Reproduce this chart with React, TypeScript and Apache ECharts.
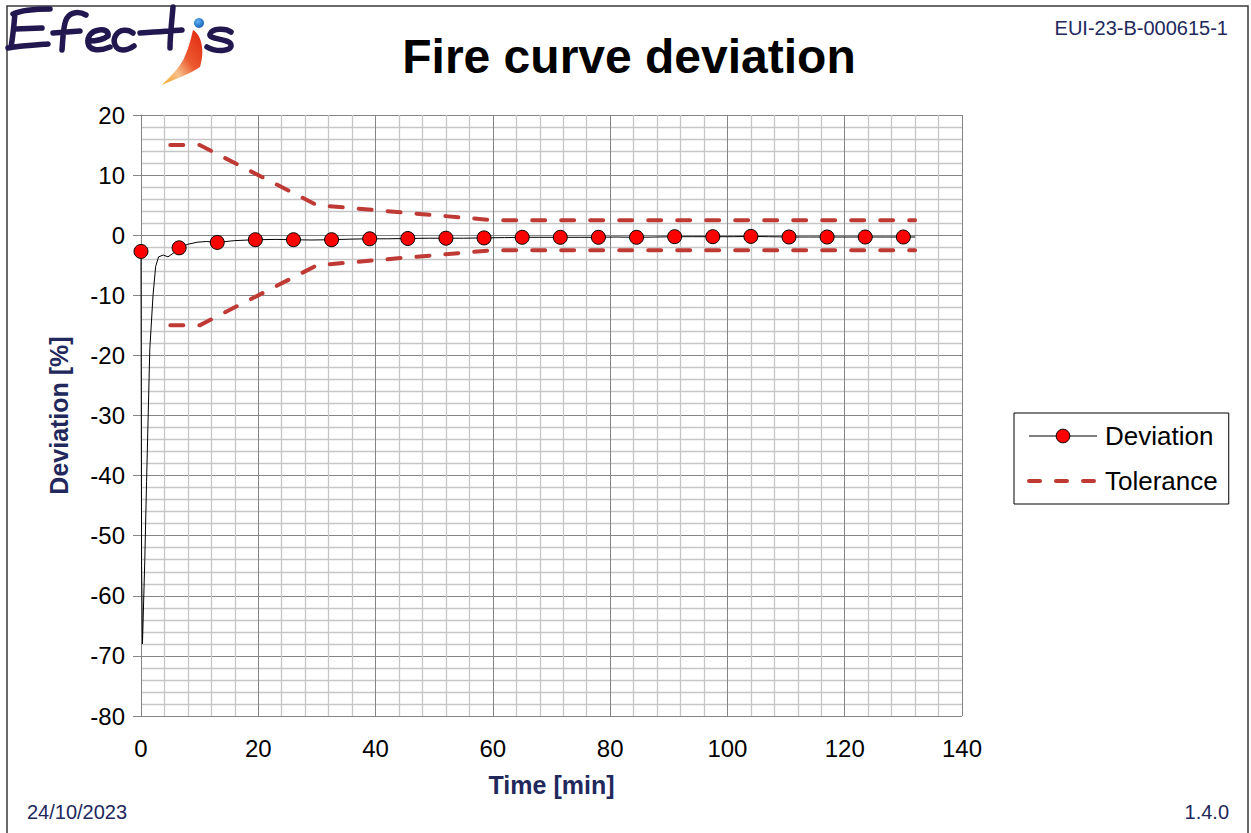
import React, { useEffect, useRef } from 'react';
import * as echarts from 'echarts';

// ---- Data ----
const devTime = [0, 0.1, 0.25, 0.65, 0.95, 1.5, 2.05, 2.5, 3.0, 3.8, 4.6, 5.5, 6.5, 8.0, 9.7, 11.2, 13.0, 16.0, 19.5, 23.0, 26.0, 29.0, 32.5, 36.0, 39.0, 42.0, 45.5, 49.0, 52.0, 55.0, 58.5, 62.0, 65.0, 68.0, 71.5, 75.0, 78.0, 81.0, 84.5, 88.0, 91.0, 94.0, 97.5, 101.0, 104.0, 107.0, 110.5, 114.0, 117.0, 120.0, 123.5, 127.0, 130.0, 132.0];
const devValue = [-2.7, -55, -68, -54, -41, -19, -10, -5.2, -3.6, -3.3, -3.6, -3.0, -2.1, -1.5, -1.15, -1.05, -1.2, -0.9, -0.75, -0.7, -0.75, -0.8, -0.75, -0.65, -0.6, -0.6, -0.55, -0.5, -0.5, -0.5, -0.45, -0.4, -0.35, -0.35, -0.35, -0.35, -0.35, -0.3, -0.35, -0.3, -0.25, -0.25, -0.25, -0.25, -0.2, -0.25, -0.3, -0.3, -0.3, -0.3, -0.3, -0.3, -0.3, -0.3];
const markerTimes = [0, 6.5, 13, 19.5, 26, 32.5, 39, 45.5, 52, 58.5, 65, 71.5, 78, 84.5, 91, 97.5, 104, 110.5, 117, 123.5, 130];

const tolTime = [5, 10, 30, 60, 132];
const tolUpper = [15, 15, 5, 2.5, 2.5];
const tolLower = [-15, -15, -5, -2.5, -2.5];

const xMin = 0;
const xMax = 140;
const xStep = 20;
const yMin = -80;
const yMax = 20;
const yStep = 10;

const seriesNames = ['Deviation', 'Tolerance'];

// ---- Logo shapes ----
const LOGO_TEXT_D =
  'M13 14 C 22 10, 36 9, 50 9 ' +
  'M15 13 C 14 25, 13 36, 11 47 ' +
  'M15 29 L 42 28 ' +
  'M8 48 C 20 46, 35 45, 48 44 ' +
  'M62 50 C 63 38, 63 24, 67 18 C 71 12, 79 11, 86 15 ' +
  'M53 33 L 80 31 ' +
  'M89 41 C 96 41, 104 39, 108 36 C 109 31, 104 29, 99 30 C 91 31, 87 37, 88 43 C 89 50, 98 52, 110 47 ' +
  'M133 33 C 128 29, 120 29, 116 35 C 112 41, 115 50, 123 50 C 127 50, 131 48, 134 46 ' +
  'M173 7 C 172 20, 170 35, 170 48 ' +
  'M140 33 C 155 32, 170 31, 182 30 ' +
  'M231 32 C 226 28, 212 28, 210 34 C 208 40, 230 38, 231 45 C 232 52, 215 52, 207 47';
const LOGO_SWOOSH_D =
  'M193 30 C 202 35, 205 52, 200 67 C 190 74, 175 79, 162 85 C 172 75, 181 66, 185 56 C 189 47, 191 38, 193 30 Z';

let logoRegistered = false;
function registerLogo() {
  if (logoRegistered) return;
  echarts.graphic.registerShape('efectisText', echarts.graphic.extendPath(LOGO_TEXT_D, {}));
  echarts.graphic.registerShape('efectisSwoosh', echarts.graphic.extendPath(LOGO_SWOOSH_D, {}));
  logoRegistered = true;
}

const FONT = '"Liberation Sans", Arial, Helvetica, sans-serif';
const NAVY = '#22285c';
const TOL_COLOR = '#bf3a35';
const MAJOR = '#858585';
const MINOR = '#c6c6c6';

export default function App() {
  const ref = useRef<HTMLDivElement>(null);

  useEffect(() => {
    if (!ref.current) return;
    registerLogo();
    const chart = echarts.init(ref.current, undefined, { renderer: 'svg' });

    const devData = devTime.map((t, i) => ({
      value: [t, devValue[i]],
      symbol: markerTimes.indexOf(t) >= 0 ? 'circle' : 'none',
    }));

    const option: any = {
      animation: false,
      backgroundColor: '#ffffff',
      grid: { left: 141, right: 289, top: 115, bottom: 117 },
      xAxis: {
        type: 'value',
        min: xMin,
        max: xMax,
        interval: xStep,
        name: 'Time [min]',
        nameLocation: 'middle',
        nameGap: 56,
        nameTextStyle: { color: NAVY, fontSize: 25, fontWeight: 'bold', fontFamily: FONT },
        axisLine: { show: true, lineStyle: { color: MAJOR, width: 1 } },
        axisTick: { show: false },
        axisLabel: { margin: 20, fontSize: 24, color: '#000', fontFamily: FONT },
        splitLine: { show: true, lineStyle: { color: MAJOR, width: 1 } },
        minorTick: { show: false, splitNumber: 5 },
        minorSplitLine: { show: true, lineStyle: { color: MINOR, width: 1.3 } },
      },
      yAxis: {
        type: 'value',
        min: yMin,
        max: yMax,
        interval: yStep,
        name: 'Deviation [%]',
        nameLocation: 'middle',
        nameGap: 70,
        nameRotate: 90,
        nameTextStyle: { color: NAVY, fontSize: 25, fontWeight: 'bold', fontFamily: FONT },
        axisLine: { show: true, lineStyle: { color: MAJOR, width: 1 } },
        axisTick: { show: true, length: 8, inside: false, lineStyle: { color: MAJOR } },
        axisLabel: { margin: 16, fontSize: 24, color: '#000', fontFamily: FONT },
        splitLine: { show: true, lineStyle: { color: MAJOR, width: 1 } },
        minorTick: { show: false, splitNumber: 5 },
        minorSplitLine: { show: true, lineStyle: { color: MINOR, width: 1.3 } },
      },
      legend: {
        orient: 'vertical',
        left: 1014,
        top: 413,
        itemWidth: 68,
        itemHeight: 17,
        itemGap: 19,
        padding: [10, 11, 10, 13],
        borderColor: '#000',
        borderWidth: 1,
        borderRadius: 0,
        backgroundColor: '#fff',
        selectedMode: false,
        textStyle: { fontSize: 26, color: '#000', fontFamily: FONT, padding: [0, 0, 0, 3] },
        data: [
          {
            name: seriesNames[0],
            itemStyle: { color: '#ff0000', borderColor: '#000', borderWidth: 1 },
            lineStyle: { color: '#000', width: 1 },
          },
          {
            name: seriesNames[1],
            itemStyle: { color: 'rgba(0,0,0,0)', borderColor: 'rgba(0,0,0,0)', borderWidth: 0, opacity: 0 },
            lineStyle: { color: TOL_COLOR, width: 4, type: [11, 16], cap: 'round' },
          },
        ],
      },
      series: [
        {
          name: seriesNames[1],
          type: 'line',
          data: tolTime.map((t, i) => [t, tolUpper[i]]),
          symbol: 'none',
          lineStyle: { color: TOL_COLOR, width: 4, type: [13, 16], cap: 'round' },
          itemStyle: { color: TOL_COLOR },
          z: 2,
          silent: true,
        },
        {
          name: seriesNames[1],
          type: 'line',
          data: tolTime.map((t, i) => [t, tolLower[i]]),
          symbol: 'none',
          lineStyle: { color: TOL_COLOR, width: 4, type: [13, 16], cap: 'round' },
          itemStyle: { color: TOL_COLOR },
          z: 2,
          silent: true,
        },
        {
          name: seriesNames[0],
          type: 'line',
          data: devData,
          symbol: 'circle',
          symbolSize: 14,
          showAllSymbol: true,
          lineStyle: { color: '#000', width: 1 },
          itemStyle: { color: '#ff0000', borderColor: '#000', borderWidth: 1 },
          z: 3,
          silent: true,
        },
      ],
      graphic: [
        {
          type: 'rect',
          silent: true,
          z: 0,
          shape: { x: 7, y: 6, width: 1241, height: 840 },
          style: { fill: 'none', stroke: '#3a3a3a', lineWidth: 1.5 },
        },
        {
          type: 'efectisText',
          silent: true,
          x: 0,
          y: 0,
          style: { fill: 'none', stroke: '#22184f', lineWidth: 5.5, lineCap: 'round', lineJoin: 'round' },
        },
        {
          type: 'efectisSwoosh',
          silent: true,
          x: 0,
          y: 0,
          style: {
            fill: new echarts.graphic.LinearGradient(1, 0, 0, 1, [
              { offset: 0, color: '#e0260f' },
              { offset: 0.45, color: '#ec5a30' },
              { offset: 0.7, color: '#f7c08a' },
              { offset: 1, color: '#f6a21c' },
            ]),
            stroke: 'none',
          },
        },
        {
          type: 'circle',
          silent: true,
          shape: { cx: 199, cy: 23, r: 5 },
          style: {
            fill: new echarts.graphic.RadialGradient(0.4, 0.35, 0.8, [
              { offset: 0, color: '#5fb3f5' },
              { offset: 1, color: '#0b4fa8' },
            ]),
          },
        },
        {
          type: 'text',
          silent: true,
          x: 629,
          y: 56,
          style: {
            text: 'Fire curve deviation',
            fontSize: 48,
            fontWeight: 'bold',
            fontFamily: FONT,
            fill: '#000',
            align: 'center',
            verticalAlign: 'middle',
          },
        },
        {
          type: 'text',
          silent: true,
          x: 1228,
          y: 28,
          style: {
            text: 'EUI-23-B-000615-1',
            fontSize: 20,
            fontFamily: FONT,
            fill: NAVY,
            align: 'right',
            verticalAlign: 'middle',
          },
        },
        {
          type: 'text',
          silent: true,
          x: 27,
          y: 812,
          style: {
            text: '24/10/2023',
            fontSize: 20,
            fontFamily: FONT,
            fill: NAVY,
            align: 'left',
            verticalAlign: 'middle',
          },
        },
        {
          type: 'text',
          silent: true,
          x: 1229,
          y: 812,
          style: {
            text: '1.4.0',
            fontSize: 20,
            fontFamily: FONT,
            fill: NAVY,
            align: 'right',
            verticalAlign: 'middle',
          },
        },
      ],
    };

    chart.setOption(option);
    return () => {
      chart.dispose();
    };
  }, []);

  return (
    <div
      ref={ref}
      style={{ position: 'fixed', left: 0, top: 0, width: 1251, height: 833, background: '#fff' }}
    />
  );
}
